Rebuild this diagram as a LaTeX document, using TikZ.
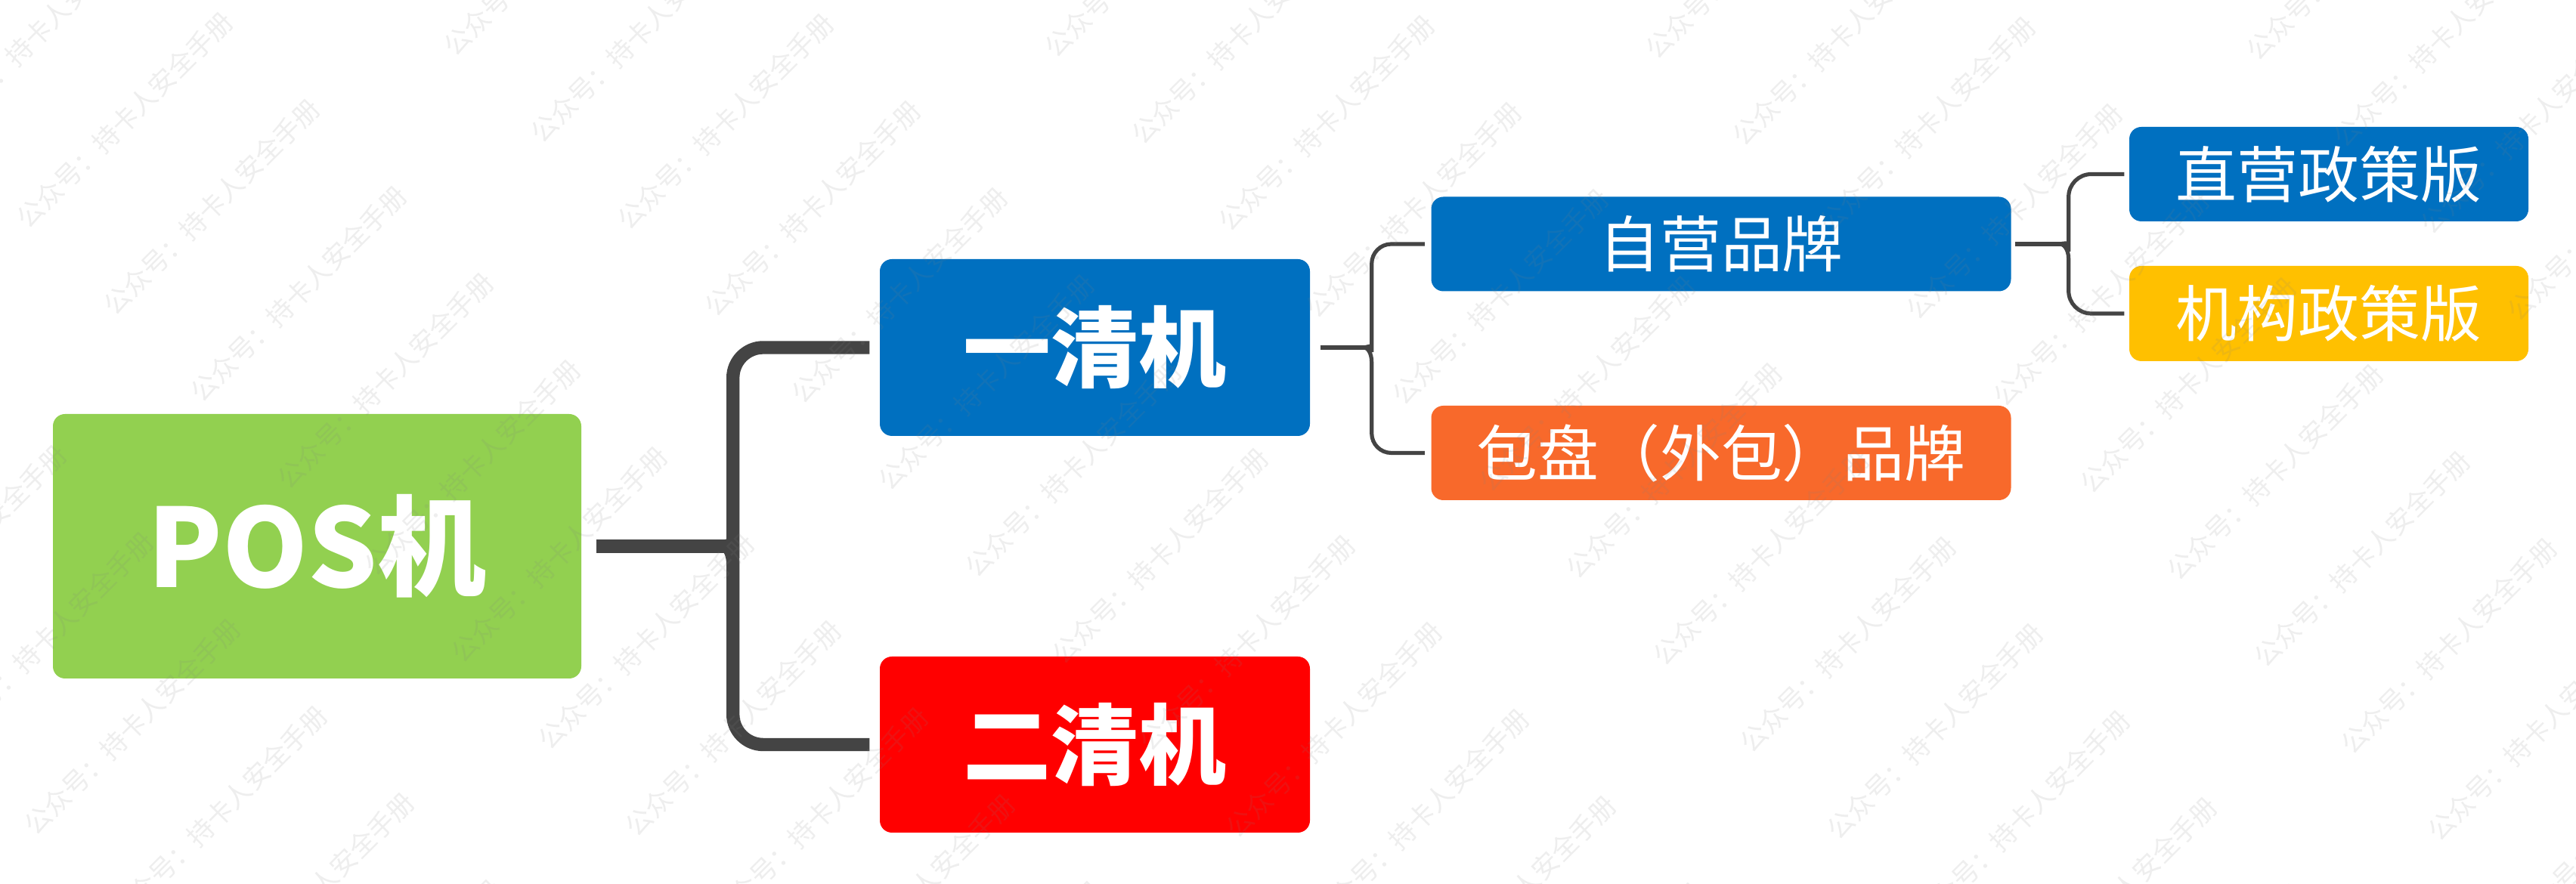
\documentclass[tikz,border=0pt]{standalone}
\usepackage{fontspec}
\setmainfont{Noto Sans CJK SC}
\usetikzlibrary{calc}
\definecolor{cgreen}{HTML}{92D050}
\definecolor{cblue}{HTML}{0070C0}
\definecolor{cred}{HTML}{FF0000}
\definecolor{corange}{HTML}{F8692B}
\definecolor{cyellow}{HTML}{FFC000}
\definecolor{cline}{HTML}{444444}
\definecolor{wmc}{RGB}{128,128,128}
\tikzset{
  box/.style={rounded corners=0.16cm, inner sep=0pt, align=center, text=white},
  mainbox/.style={box, font=\bfseries\fontsize{41}{48}\selectfont},
  midbox/.style={box, font=\bfseries\fontsize{33}{40}\selectfont},
  leafbox/.style={box, font=\fontsize{23}{28}\selectfont},
  bigl/.style={draw=cline, line width=0.174cm},
  thinl/.style={draw=cline, line width=0.052cm},
  wm/.style={text=wmc, text opacity=0.135, rotate=45, inner sep=0pt, font=\fontsize{10}{12}\selectfont}
}
\begin{document}
\begin{tikzpicture}
\useasboundingbox (0,0) rectangle (34.08,11.70);
\fill[white] (0,0) rectangle (34.08,11.70);

% nodes
\node[mainbox, fill=cgreen, minimum width=6.99cm, minimum height=3.50cm] (pos) at (4.195,4.47) {POS机};
\node[midbox, fill=cblue, minimum width=5.69cm, minimum height=2.34cm] (yi) at (14.485,7.10) {一清机};
\node[midbox, fill=cred, minimum width=5.69cm, minimum height=2.33cm] (er) at (14.485,1.845) {二清机};
\node[leafbox, fill=cblue, minimum width=7.67cm, minimum height=1.25cm] (zy) at (22.77,8.47) {自营品牌};
\node[leafbox, fill=corange, minimum width=7.67cm, minimum height=1.25cm] (bp) at (22.77,5.705) {包盘（外包）品牌};
\node[leafbox, fill=cblue, minimum width=5.28cm, minimum height=1.25cm] (zz) at (30.81,9.395) {直营政策版};
\node[leafbox, fill=cyellow, minimum width=5.28cm, minimum height=1.26cm] (jg) at (30.81,7.55) {机构政策版};

% connector POS -> 一清机 / 二清机
\coordinate (tipA) at ($(pos.east)+(1.89,0)$);
\coordinate (trA) at ($(tipA)+(0.11,0)$);
\draw[bigl] ($(pos.east)+(0.19,0)$) -- (tipA);
\draw[bigl] ($(yi.west)+(-0.13,0)$) [rounded corners=4mm] -- (trA |- yi.west) -- ($(trA)+(0,0.24)$)
  [sharp corners] .. controls ($(trA)+(0,0.08)$) and ($(tipA)+(0.05,0)$) .. (tipA)
  .. controls ($(tipA)+(0.05,0)$) and ($(trA)+(0,-0.08)$) .. ($(trA)+(0,-0.24)$)
  [rounded corners=4mm] -- (trA |- er.west) -- ($(er.west)+(-0.13,0)$);

% connector 一清机 -> 自营品牌 / 包盘品牌
\coordinate (tipB) at ($(yi.east)+(0.71,0)$);
\coordinate (trB) at ($(tipB)+(0.10,0)$);
\draw[thinl] ($(yi.east)+(0.13,0)$) -- (tipB);
\draw[thinl] ($(zy.west)+(-0.08,0)$) [rounded corners=2.6mm] -- (trB |- zy.west) -- ($(trB)+(0,0.2)$)
  [sharp corners] .. controls ($(trB)+(0,0.06)$) and ($(tipB)+(0.04,0)$) .. (tipB)
  .. controls ($(tipB)+(0.04,0)$) and ($(trB)+(0,-0.06)$) .. ($(trB)+(0,-0.2)$)
  [rounded corners=2.6mm] -- (trB |- bp.west) -- ($(bp.west)+(-0.08,0)$);

% connector 自营品牌 -> 直营政策版 / 机构政策版
\coordinate (tipC) at ($(zy.east)+(0.645,0)$);
\coordinate (trC) at ($(tipC)+(0.11,0)$);
\draw[thinl] ($(zy.east)+(0.05,0)$) -- (tipC);
\draw[thinl] ($(zz.west)+(-0.06,0)$) [rounded corners=3mm] -- (trC |- zz.west) -- ($(trC)+(0,0.2)$)
  [sharp corners] .. controls ($(trC)+(0,0.06)$) and ($(tipC)+(0.04,0)$) .. (tipC)
  .. controls ($(tipC)+(0.04,0)$) and ($(trC)+(0,-0.06)$) .. ($(trC)+(0,-0.2)$)
  [rounded corners=3mm] -- (trC |- jg.west) -- ($(jg.west)+(-0.06,0)$);

% watermark
\foreach \m in {-2,...,7}{
  \foreach \n in {-28,...,8}{
    \pgfmathsetmacro\wx{31.25-4.50*\m+1.15*\n}
    \pgfmathsetmacro\wy{4.305-3.43*\m-1.15*\n}
    \pgfmathparse{(\wx>-3)&&(\wx<37)&&(\wy>-3)&&(\wy<14.7)?1:0}
    \ifnum\pgfmathresult=1
      \node[wm] (w\m_\n) at (\wx,\wy) {公众号：持卡人安全手册};
    \fi
  }
}
\end{tikzpicture}
\end{document}
